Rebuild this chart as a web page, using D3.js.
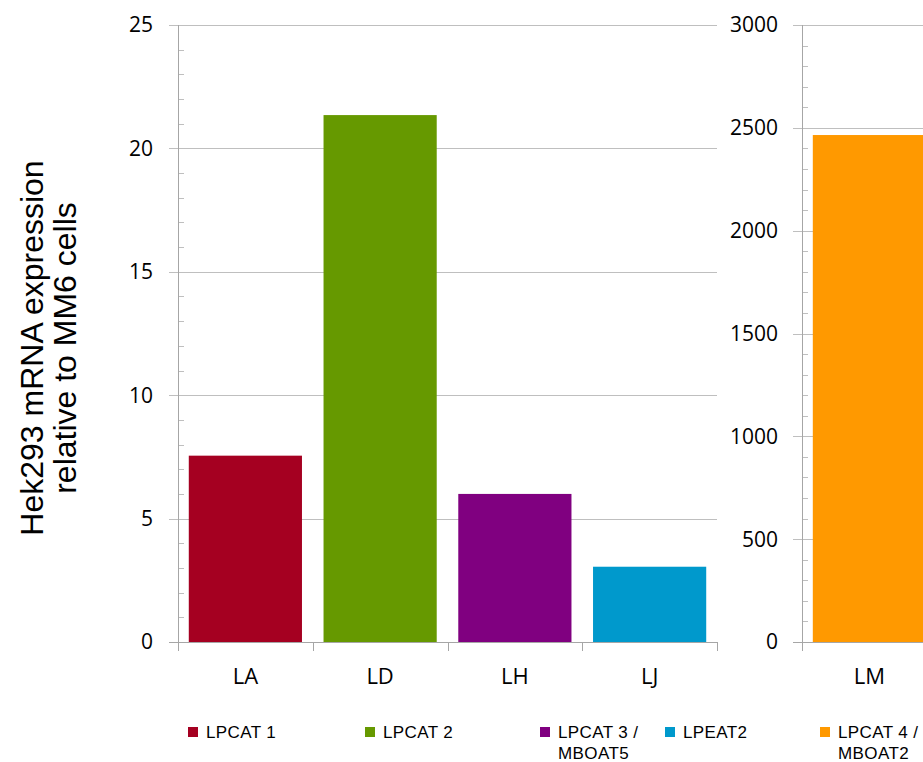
<!DOCTYPE html>
<html>
<head>
<meta charset="utf-8">
<script src="https://cdn.jsdelivr.net/npm/d3@7"></script>
<style>
  body { margin: 0; background: #fff; }
  svg { display: block; }
</style>
</head>
<body>
<svg id="chart" width="923" height="762"></svg>
<script>
// values
var leftCategories = ["LA", "LD", "LH", "LJ"];
var leftValues = [7.55, 21.35, 6.0, 3.05];
var leftColors = ["#A50021", "#669900", "#800080", "#0099CC"];
var leftTicks = [0, 5, 10, 15, 20, 25];

var rightCategories = ["LM"];
var rightValues = [2465];
var rightColors = ["#FF9900"];
var rightTicks = [0, 500, 1000, 1500, 2000, 2500, 3000];

var legendLabels = [["LPCAT 1"], ["LPCAT 2"], ["LPCAT 3 /", "MBOAT5"], ["LPEAT2"], ["LPCAT 4 /", "MBOAT2"]];
var legendColors = ["#A50021", "#669900", "#800080", "#0099CC", "#FF9900"];

var svg = d3.select("#chart");
var plotTop = 25, plotBottom = 642;
var gridColor = "#BFBFBF", axisColor = "#A6A6A6";
var tickFont = "'Open Sans', sans-serif";

var drawPanel = function drawPanel(opts) {
  var g = svg.append("g");
  var x = d3.scaleBand().domain(opts.categories).range([opts.x0, opts.x1]).padding(0);
  var y = d3.scaleLinear().domain([0, opts.max]).range([plotBottom, plotTop]);

  // gridlines at major ticks
  g.selectAll("line.grid")
    .data(opts.ticks)
    .enter()
    .append("line")
    .attr("x1", opts.x0 - 9)
    .attr("x2", opts.gridEnd)
    .attr("y1", function(d) { return Math.round(y(d)) + 0.5; })
    .attr("y2", function(d) { return Math.round(y(d)) + 0.5; })
    .style("stroke", gridColor)
    .style("stroke-width", 1);

  // minor ticks
  var minor = d3.range(0, opts.max + 1e-9, opts.minorStep).filter(function(d) {
    return opts.ticks.indexOf(d) < 0;
  });
  g.selectAll("line.minor")
    .data(minor)
    .enter()
    .append("line")
    .attr("x1", opts.x0)
    .attr("x2", opts.x0 + 6)
    .attr("y1", function(d) { return Math.round(y(d)) + 0.5; })
    .attr("y2", function(d) { return Math.round(y(d)) + 0.5; })
    .style("stroke", gridColor);

  // bars
  var bw = x.bandwidth() * 0.84;
  g.selectAll("rect.bar")
    .data(opts.values)
    .enter()
    .append("rect")
    .attr("x", function(d, i) { return x(opts.categories[i]) + (x.bandwidth() - bw) / 2; })
    .attr("y", function(d) { return y(d); })
    .attr("width", bw)
    .attr("height", function(d) { return plotBottom - y(d); })
    .style("fill", function(d, i) { return opts.colors[i]; });

  // y axis line
  g.append("line")
    .attr("x1", opts.x0 + 0.5).attr("x2", opts.x0 + 0.5)
    .attr("y1", plotTop).attr("y2", plotBottom)
    .style("stroke", axisColor);

  // x axis line and category boundary ticks
  g.append("line")
    .attr("x1", opts.x0 - 9).attr("x2", opts.gridEnd)
    .attr("y1", plotBottom + 0.5).attr("y2", plotBottom + 0.5)
    .style("stroke", axisColor);
  var edges = opts.categories.map(function(c) { return x(c); }).concat([opts.x1]);
  g.selectAll("line.xtick")
    .data(edges)
    .enter()
    .append("line")
    .attr("x1", function(d) { return Math.round(d) + 0.5; })
    .attr("x2", function(d) { return Math.round(d) + 0.5; })
    .attr("y1", plotBottom).attr("y2", plotBottom + 9)
    .style("stroke", axisColor);

  // tick labels
  g.selectAll("text.ylab")
    .data(opts.ticks)
    .enter()
    .append("text")
    .attr("x", opts.labelX)
    .attr("y", function(d) { return y(d); })
    .attr("dy", "0.35em")
    .attr("text-anchor", "end")
    .style("font-family", tickFont)
    .style("font-size", "21px")
    .style("fill", "#000")
    .text(function(d) { return d; });

  g.selectAll("text.xlab")
    .data(opts.categories)
    .enter()
    .append("text")
    .attr("x", function(d) { return x(d) + x.bandwidth() / 2; })
    .attr("y", 684)
    .attr("text-anchor", "middle")
    .style("font-family", tickFont)
    .style("font-size", "22px")
    .style("fill", "#000")
    .text(function(d) { return d; });
};

drawPanel({
  categories: leftCategories, values: leftValues, colors: leftColors,
  ticks: leftTicks, max: 25, minorStep: 1,
  x0: 178, x1: 717, gridEnd: 717, labelX: 153
});

drawPanel({
  categories: rightCategories, values: rightValues, colors: rightColors,
  ticks: rightTicks, max: 3000, minorStep: 100,
  x0: 802, x1: 937, gridEnd: 937, labelX: 778
});

// y axis title
var title = svg.append("text")
  .attr("transform", "translate(48,348) rotate(-90)")
  .attr("text-anchor", "middle")
  .style("font-family", "'Liberation Sans', Arial, sans-serif")
  .style("font-size", "32px")
  .style("fill", "#000");
title.append("tspan").attr("x", 0).attr("dy", "-0.15em").text("Hek293 mRNA expression");
title.append("tspan").attr("x", 0).attr("dy", "1.02em").text("relative to MM6 cells");

// legend
var legendX = [188, 365, 540, 665, 820];
var legend = svg.selectAll("g.legend")
  .data(legendLabels)
  .enter()
  .append("g")
  .attr("class", "legend")
  .attr("transform", function(d, i) { return "translate(" + legendX[i] + ",727)"; });
legend.append("rect")
  .attr("width", 10).attr("height", 10)
  .style("fill", function(d, i) { return legendColors[i]; });
legend.each(function(lines) {
  var t = d3.select(this).append("text")
    .attr("x", 18)
    .attr("y", 11)
    .style("font-family", "'Liberation Sans', Arial, sans-serif")
    .style("font-size", "17px")
    .style("letter-spacing", "0.4px")
    .style("fill", "#000");
  lines.forEach(function(line, k) {
    t.append("tspan").attr("x", 18).attr("dy", k ? "1.25em" : 0).text(line);
  });
});
</script>
</body>
</html>
